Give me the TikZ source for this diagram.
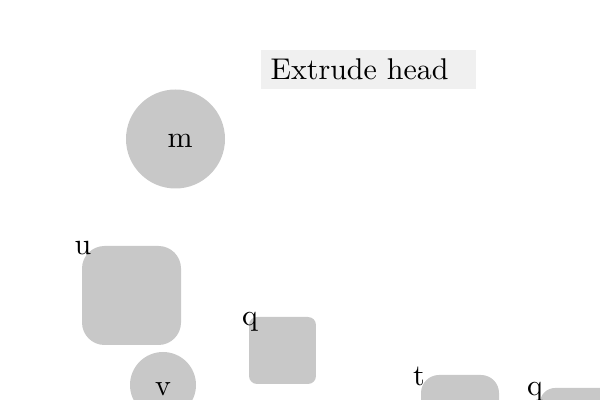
\documentclass[tikz,border=0pt]{standalone}
\definecolor{shapegray}{HTML}{C8C8C8}
\definecolor{boxgray}{HTML}{F0F0F0}
\tikzset{
  blob/.style={fill=shapegray, draw=none, inner sep=0pt},
  lbl/.style={inner sep=0pt, font=\normalsize, text=black},
  titlebox/.style={fill=boxgray, draw=none, inner xsep=3.33pt, inner ysep=0pt,
    minimum height=13pt, text width=65pt, align=left, font=\normalsize, text=black}
}
\begin{document}
\begin{tikzpicture}[x=0.33333pt,y=-0.33333pt]
\useasboundingbox (0,0) rectangle (600,400);
\clip (0,0) rectangle (600,400);
% title
\node[titlebox, anchor=west] (title) at (260,69.5) {Extrude head};
% circle m
\node[blob, circle, minimum size=33pt] (m) at (175.5,139) {};
\node[lbl] (mt) at (180,141) {m};
% rounded square u
\node[blob, rounded corners=7.5pt, minimum width=33pt, minimum height=33pt] (u) at (131.5,295.5) {};
\node[lbl] (ut) at (83,248) {u};
% circle v
\node[blob, circle, minimum size=22pt] (v) at (163,385) {};
\node[lbl] (vt) at (163,389) {v};
% square q
\node[blob, rounded corners=2.67pt, minimum width=22.33pt, minimum height=22.33pt] (q) at (282.5,350.5) {};
\node[lbl] (qt) at (250,322) {q};
% shape t
\node[blob, rounded corners=6pt, minimum width=26pt, minimum height=26pt] (t) at (460,414) {};
\node[lbl] (tt) at (419,376) {t};
% shape q2
\node[blob, rounded corners=5pt, minimum width=26pt, minimum height=26pt] (q2) at (579,427) {};
\node[lbl] (q2t) at (535,392) {q};
\end{tikzpicture}
\end{document}
